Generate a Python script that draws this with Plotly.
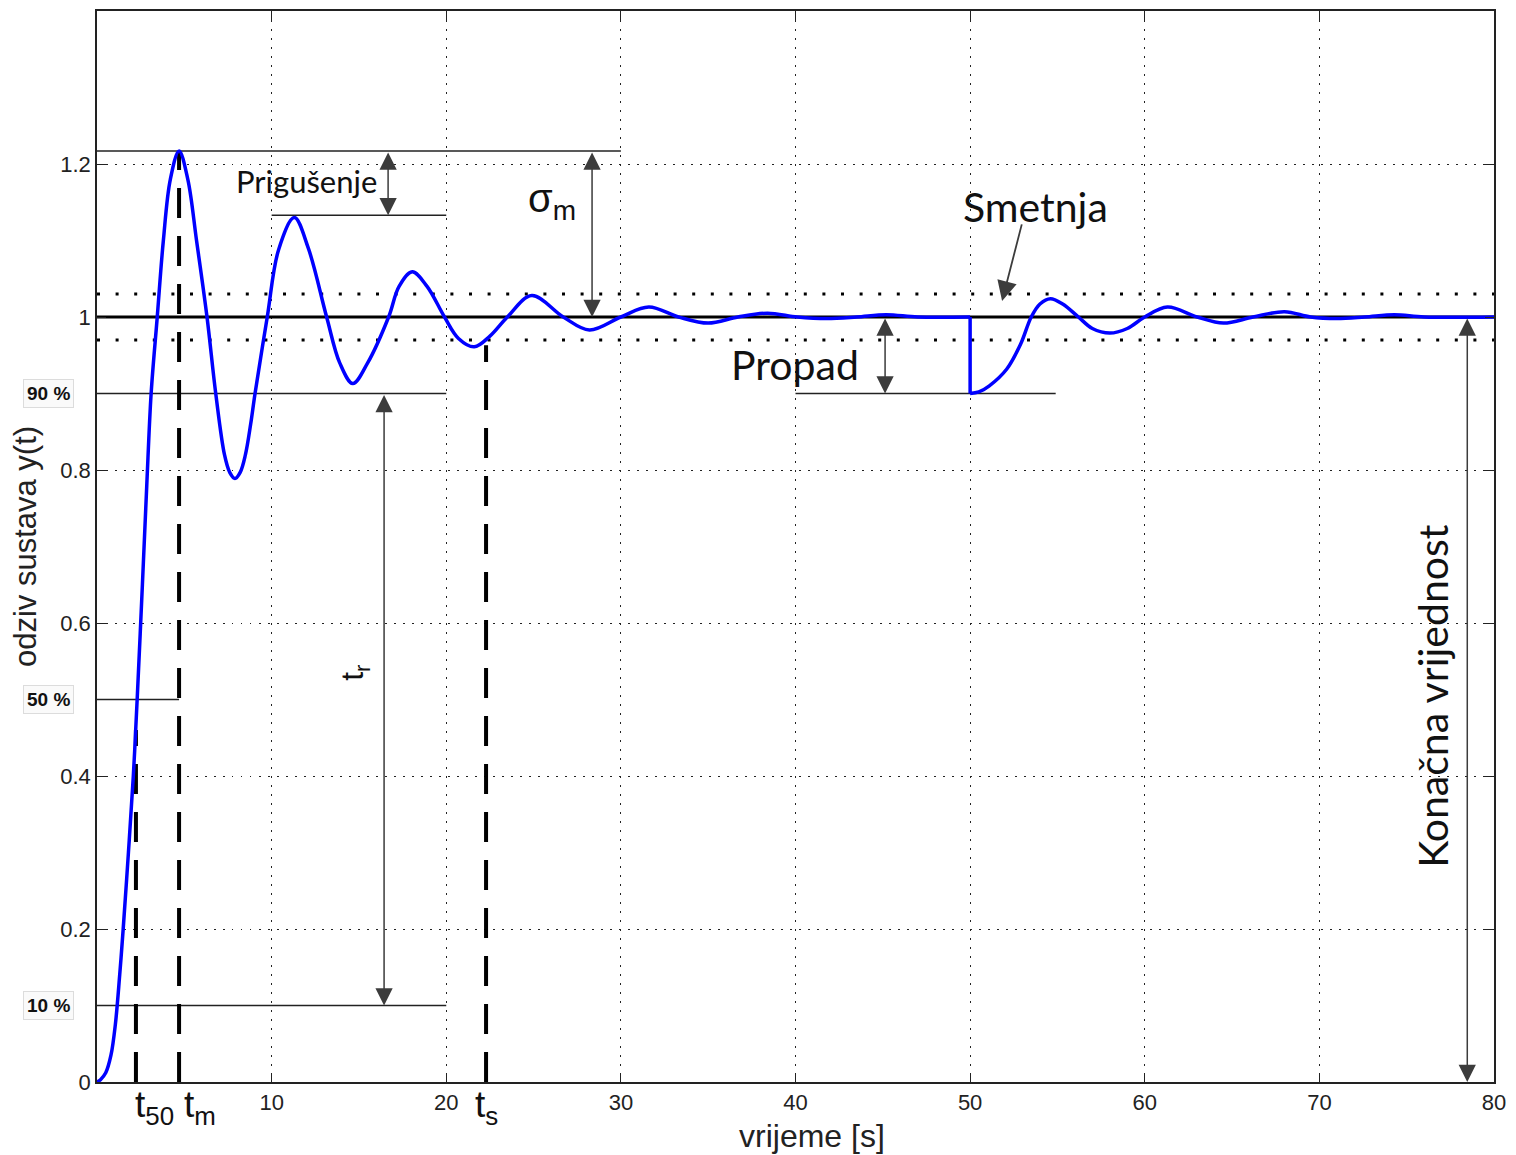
import plotly.graph_objects as go

# ---------------- data ----------------
resp_x = [0, 0.2, 0.5, 0.8, 1.05, 1.3, 1.5, 1.8, 2.08, 2.3, 2.6, 2.85, 3.1, 3.45, 3.8, 4.2, 4.7,
          5.2, 5.7, 6.3, 6.8, 7.3, 7.6, 7.9, 8.2, 8.5, 8.8, 9.05, 9.75, 10.4, 11.3, 12.1, 13.15,
          13.9, 14.65, 15.5, 16.7, 17.3, 18.05, 18.9, 19.9, 20.7, 21.6, 22.5, 23.5, 24.9, 26.7,
          28.2, 30.0, 31.6, 33.3, 35.0, 36.7, 38.4, 40.1, 41.8, 43.5, 45.2, 47.0, 50.0,
          50.0, 50.5, 51.1, 52.1, 52.9, 53.5, 54.0, 54.6, 55.3, 56.2, 57.0, 58.0, 59.0, 60.0,
          61.3, 63.0, 64.5, 66.2, 68.0, 69.5, 71.0, 72.6, 74.3, 76.0, 80.0]
resp_y = [0, 0.003, 0.012, 0.035, 0.075, 0.14, 0.2, 0.3, 0.4, 0.5, 0.65, 0.78, 0.9, 1.0, 1.1, 1.18, 1.217,
          1.18, 1.1, 1.0, 0.9, 0.82, 0.797, 0.789, 0.797, 0.82, 0.86, 0.9, 1.0, 1.088, 1.13, 1.09, 1.0,
          0.94, 0.913, 0.94, 1.0, 1.04, 1.059, 1.04, 1.0, 0.972, 0.961, 0.975, 1.0, 1.028, 1.0,
          0.983, 1.0, 1.013, 1.0, 0.992, 1.0, 1.005, 1.0, 0.998, 1.0, 1.003, 1.0, 1.0,
          0.9, 0.902, 0.91, 0.932, 0.965, 1.0, 1.017, 1.024, 1.017, 1.0, 0.985, 0.979, 0.985, 1.0,
          1.013, 1.0, 0.992, 1.0, 1.007, 1.0, 0.998, 1.0, 1.003, 1.0, 1.0]

final_value = 1.0
band_levels = [1.03, 0.97]

ref_line_y = [1.217, 1.133, 0.9, 0.5, 0.1, 0.9]
ref_line_x0 = [0, 10, 0, 0, 0, 40]
ref_line_x1 = [30, 20, 20, 4.7, 20, 54.9]

mark_x = [2.23, 4.7, 22.28]
mark_ytop = [0.46, 1.217, 0.963]
mark_labels = ["t<sub>50</sub>", "t<sub>m</sub>", "t<sub>s</sub>"]
mark_label_x = [3.32, 5.9, 22.33]

arrow_x = [16.67, 28.35, 16.44, 45.13, 78.47]
arrow_y0 = [1.217, 1.217, 0.9, 1.0, 1.0]
arrow_y1 = [1.133, 1.0, 0.1, 0.9, 0.0]

pct_levels = [0.9, 0.5, 0.1]
pct_labels = ["90 %", "50 %", "10 %"]

x_ticks = [0, 10, 20, 30, 40, 50, 60, 70, 80]
x_ticktext = ["", "10", "20", "30", "40", "50", "60", "70", "80"]
y_ticks = [0, 0.2, 0.4, 0.6, 0.8, 1.0, 1.2]
y_ticktext = ["0", "0.2", "0.4", "0.6", "0.8", "1", "1.2"]

Y_MAX = 1.4

# ---------------- figure ----------------
fig = go.Figure()

for lv in band_levels:
    fig.add_trace(go.Scatter(x=[0, 80], y=[lv, lv], mode="lines",
                             line=dict(color="black", width=3, dash="3px,15.6px"),
                             hoverinfo="skip", showlegend=False))

for yv, a, b in zip(ref_line_y, ref_line_x0, ref_line_x1):
    fig.add_trace(go.Scatter(x=[a, b], y=[yv, yv], mode="lines",
                             line=dict(color="#222222", width=1.3),
                             hoverinfo="skip", showlegend=False))

for xv, yt in zip(mark_x, mark_ytop):
    fig.add_trace(go.Scatter(x=[xv, xv], y=[0, yt], mode="lines",
                             line=dict(color="black", width=4, dash="30px,18px"),
                             hoverinfo="skip", showlegend=False))

fig.add_trace(go.Scatter(x=[0, 80], y=[final_value, final_value], mode="lines",
                         line=dict(color="black", width=3),
                         hoverinfo="skip", showlegend=False))

k = next(i for i in range(len(resp_x) - 1) if resp_x[i] == resp_x[i + 1])
blue = dict(color="#0000ff", width=3.5)
fig.add_trace(go.Scatter(x=resp_x[:k + 1], y=resp_y[:k + 1], mode="lines",
                         line=dict(**blue, shape="spline", smoothing=1.0),
                         hoverinfo="skip", showlegend=False))
fig.add_trace(go.Scatter(x=resp_x[k:k + 2], y=resp_y[k:k + 2], mode="lines",
                         line=blue, hoverinfo="skip", showlegend=False))
fig.add_trace(go.Scatter(x=resp_x[k + 1:], y=resp_y[k + 1:], mode="lines",
                         line=dict(**blue, shape="spline", smoothing=1.0),
                         hoverinfo="skip", showlegend=False))

annotations = []
arrow_col = "#3c3c3c"
for xv, y0, y1 in zip(arrow_x, arrow_y0, arrow_y1):
    annotations.append(dict(x=xv, y=y1, ax=xv, ay=y0, xref="x", yref="y", axref="x", ayref="y",
                            text="", showarrow=True, arrowhead=2, startarrowhead=2,
                            arrowside="end+start", arrowsize=2.3, startarrowsize=2.3,
                            arrowwidth=1.5, arrowcolor=arrow_col, standoff=0, startstandoff=0))
annotations.append(dict(x=51.83, y=1.021, ax=52.98, ay=1.123, xref="x", yref="y", axref="x",
                        ayref="y", text="", showarrow=True, arrowhead=2, arrowsize=2.2,
                        arrowwidth=1.8, arrowcolor=arrow_col, standoff=0))

cal = "Lato, Open Sans, sans-serif"
ari = "Liberation Sans, Arial, sans-serif"
texts = [
    dict(x=11.97, y=1.178, text="Prigušenje", font=dict(family=cal, size=31, color="#111")),
    dict(x=26.06, y=1.152, text="σ<sub>m</sub>", font=dict(family=ari, size=40, color="#111")),
    dict(x=53.72, y=1.145, text="Smetnja", font=dict(family=cal, size=41, color="#111")),
    dict(x=39.98, y=0.9376, text="Propad", font=dict(family=cal, size=41, color="#111")),
    dict(x=14.78, y=0.535, text="t<sub>r</sub>", textangle=-90,
         font=dict(family=ari, size=32, color="#111")),
    dict(x=76.46, y=0.505, text="Konačna vrijednost", textangle=-90,
         font=dict(family=cal, size=41, color="#111")),
]
for a in texts:
    a.update(xref="x", yref="y", showarrow=False, xanchor="center", yanchor="middle")
annotations += texts

for xv, lab in zip(mark_label_x, mark_labels):
    annotations.append(dict(x=xv, y=-0.033 / Y_MAX, xref="x", yref="paper", text=lab,
                            showarrow=False, xanchor="center", yanchor="middle",
                            font=dict(family=ari, size=37, color="#111")))

for lv, lab in zip(pct_levels, pct_labels):
    annotations.append(dict(x=-0.0345, y=lv, xref="paper", yref="y", text="<b>" + lab + "</b>",
                            showarrow=False, xanchor="center", yanchor="middle",
                            font=dict(family=ari, size=19, color="#111"),
                            bordercolor="#dcdcdc", borderwidth=1, borderpad=3,
                            bgcolor="#fafafa"))

annotations.append(dict(x=0.512, y=-0.0505, xref="paper", yref="paper", text="vrijeme [s]",
                        showarrow=False, xanchor="center", yanchor="middle",
                        font=dict(family=ari, size=32, color="#222")))

fig.update_layout(
    width=1516, height=1155,
    margin=dict(l=97, r=22, t=11, b=73),
    paper_bgcolor="white", plot_bgcolor="white",
    annotations=annotations,
    showlegend=False,
)
fig.update_xaxes(range=[0, 80], tickvals=x_ticks, ticktext=x_ticktext, automargin=False,
                 showline=True, linecolor="#222", linewidth=1.5, mirror="ticks",
                 ticks="inside", ticklen=9, tickcolor="#222",
                 showgrid=True, gridcolor="#222", gridwidth=1, griddash="1.5px,7.5px",
                 zeroline=False,
                 tickfont=dict(family=ari, size=22, color="#222"))
fig.update_yaxes(range=[0, Y_MAX], tickvals=y_ticks, ticktext=y_ticktext, automargin=False,
                 showline=True, linecolor="#222", linewidth=1.5, mirror="ticks",
                 ticks="inside", ticklen=9, tickcolor="#222",
                 showgrid=True, gridcolor="#222", gridwidth=1, griddash="1.5px,7.5px",
                 zeroline=False,
                 tickfont=dict(family=ari, size=22, color="#222"),
                 title=dict(text="odziv sustava y(t)", standoff=14,
                            font=dict(family=ari, size=31, color="#222")))

fig.write_html("out.html", config={"displayModeBar": False},
               post_script="document.body.style.margin='0';document.body.style.overflow='hidden';")
